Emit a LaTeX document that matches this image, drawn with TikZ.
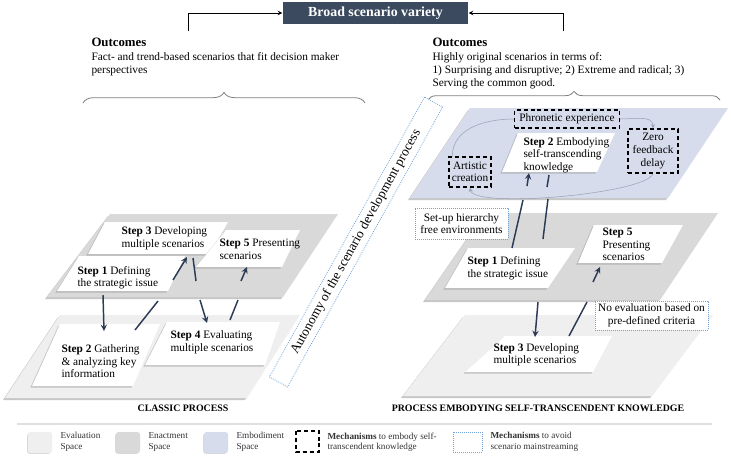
\documentclass[tikz,border=0pt]{standalone}
\usepackage{fontspec}
\setmainfont{Liberation Serif}
\usepackage{tikz}
\usetikzlibrary{shadows,decorations.pathreplacing}
\definecolor{titlebg}{HTML}{3B4A5E}
\definecolor{flowline}{HTML}{2B3A55}
\definecolor{evalfill}{HTML}{EFEFEF}
\definecolor{enactfill}{HTML}{D9D9D9}
\definecolor{embodyfill}{HTML}{D6DCEC}
\definecolor{dotblue}{HTML}{6FA3D8}
\definecolor{bracegray}{HTML}{808080}
\definecolor{loopgray}{HTML}{98A3B8}
\newcommand{\stepfnt}{\fontsize{8.5}{9.4}\selectfont}
\newcommand{\headfnt}{\fontsize{9.6}{11}\selectfont\bfseries}
\newcommand{\outfnt}{\fontsize{8.5}{10.1}\selectfont}
\newcommand{\ttlfnt}{\fontsize{10.4}{12}\selectfont\bfseries}
\newcommand{\procfnt}{\fontsize{7.4}{9}\selectfont\bfseries}
\newcommand{\autofnt}{\fontsize{10}{12}\selectfont}
\newcommand{\legfnt}{\fontsize{6.9}{8.2}\selectfont}

\begin{document}
\begin{tikzpicture}[x=0.75pt, y=-0.75pt, >=stealth, line width=.8pt,
    plane/.style={drop shadow={shadow xshift=-1.5pt, shadow yshift=-1.5pt, opacity=.4, fill=black!55}},
    card/.style={fill=white, drop shadow={shadow xshift=-1.2pt, shadow yshift=-1.2pt, opacity=.45, fill=black!45}},
    steptext/.style={font=\stepfnt, align=left, anchor=north west, inner sep=0pt},
    outhead/.style={font=\headfnt, anchor=north west, inner sep=0pt},
    outtext/.style={font=\outfnt, align=left, anchor=north west, inner sep=0pt},
    mech/.style={draw=black, line width=1.1pt, dash pattern=on 3pt off 2.2pt, fill=embodyfill, font=\stepfnt, align=center, inner sep=1pt},
    nostream/.style={draw=dotblue, line width=.6pt, dash pattern=on .6pt off .9pt, fill=white, font=\stepfnt, align=center},
    flow/.style={draw=flowline, line width=1.1pt},
    loopline/.style={draw=loopgray, line width=.4pt},
    proclabel/.style={font=\procfnt},
    legtext/.style={font=\legfnt, text=black!80, align=left, anchor=north west, inner sep=0pt}]
    \useasboundingbox[fill=white] (0,0) rectangle (731,455);

    % Title.
    \node[fill=titlebg, text=white, font=\ttlfnt, minimum width=138.75pt, minimum height=16.5pt, inner sep=0pt] (title) at (375.5,13) {Broad scenario variety};
    \coordinate (lup) at (188,31);
    \coordinate (rup) at (563,31);
    \draw[->, line width=.6pt] (lup) |- (title.west);
    \draw[->, line width=.6pt] (rup) |- (title.east);

    % Outcomes.
    \node[outhead] (outl) at (91,37.5) {Outcomes};
    \node[outtext] (outltext) at (91,51.5) {Fact- and trend-based scenarios that fit decision maker\\perspectives};
    \node[outhead] (outr) at (432,37.5) {Outcomes};
    \node[outtext] (outrtext) at (432,51.5) {Highly original scenarios in terms of:\\1) Surprising and disruptive; 2) Extreme and radical; 3)\\Serving the common good.};
    \draw[bracegray, line width=.6pt, decorate, decoration={brace, amplitude=8pt}] (83,103) -- (365,103);
    \draw[bracegray, line width=.6pt, decorate, decoration={brace, amplitude=6.5pt}] (428,100) -- (720,100);

    % Classic process.
    \fill[plane, evalfill] (60,315) -- (300,315) -- (247,398) -- (5,398) -- cycle;
    \fill[plane, enactfill] (110,214) -- (338,214) -- (283,297) -- (47,297) -- cycle;
    \fill[card] (105,222) -- (228,222) -- (210,254) -- (88,254) -- cycle;
    \fill[card] (79,256) -- (185,256) -- (168,291) -- (57,291) -- cycle;
    \fill[card] (226,230) -- (300,230) -- (282,267) -- (196,267) -- cycle;
    \fill[card] (60,324) -- (160,324) -- (133,386) -- (32,386) -- cycle;
    \fill[card] (167,322) -- (280,322) -- (265,365) -- (145,365) -- cycle;
    \node[steptext] (cl3) at (121,226.5) {\textbf{Step 3} Developing\\multiple scenarios};
    \node[steptext] (cl1) at (77,265.5) {\textbf{Step 1} Defining\\the strategic issue};
    \node[steptext] (cl5) at (219,238.5) {\textbf{Step 5} Presenting\\scenarios};
    \node[steptext] (cl2) at (61,344.5) {\textbf{Step 2} Gathering\\\& analyzing key\\information};
    \node[steptext] (cl4) at (170,330.5) {\textbf{Step 4} Evaluating\\multiple scenarios};
    \node[proclabel] (classic) at (183,408) {CLASSIC PROCESS};

    \coordinate (l1b) at (103,295);
    \coordinate (l2t) at (104,331);
    \draw[flow, ->] (l1b) -- (l2t);
    \coordinate (l2r) at (135,330);
    \coordinate (l2g) at (158,301);
    \coordinate (l3g) at (173,280);
    \coordinate (l3b) at (187,257);
    \draw[flow] (l2r) -- (l2g);
    \draw[flow, ->] (l3g) -- (l3b);
    \coordinate (l3r) at (193,258);
    \coordinate (l3h) at (196,281);
    \coordinate (l4h) at (200,300);
    \coordinate (l4t) at (207,323);
    \draw[flow] (l3r) -- (l3h);
    \draw[flow, ->] (l4h) -- (l4t);
    \coordinate (l4r) at (230,320);
    \coordinate (l4g) at (238,300);
    \coordinate (l5g) at (241,281);
    \coordinate (l5b) at (247,267);
    \draw[flow] (l4r) -- (l4g);
    \draw[flow, ->] (l5g) -- (l5b);

    % Autonomy.
    \node[nostream, rotate=61, minimum width=240pt, minimum height=15.5pt, font=\autofnt, inner sep=0pt] (autonomy) at (356,242) {Autonomy of the scenario development process};

    % Process embodying self-transcendent knowledge.
    \fill[plane, evalfill] (465,315) -- (713,315) -- (652,396) -- (403,396) -- cycle;
    \fill[plane, enactfill] (485,213) -- (718,213) -- (660,300) -- (425,300) -- cycle;
    \fill[plane, embodyfill] (470,108) -- (728,108) -- (668,198) -- (410,198) -- cycle;

    \node[mech, minimum width=37.5pt, minimum height=33pt] (zero) at (653,151) {Zero\\feedback\\delay};
    \node[mech, minimum width=31.5pt, minimum height=22.5pt] (art) at (470,172) {Artistic\\creation};
    \node[mech, minimum width=78.75pt, minimum height=13.5pt] (phron) at (567,119) {Phronetic experience};
    \draw[loopline] ([xshift=3pt]art.north west) to[out=90, in=180] (phron.west);
    \draw[loopline, ->] (phron.east) to[out=0, in=90] (zero.north);
    \draw[loopline, ->] (zero.south) to[out=-110, in=-80, looseness=.3] (art.south);

    \fill[card] (518,133) -- (615,133) -- (597,172) -- (502,172) -- cycle;
    \fill[card] (468,248) -- (575,248) -- (548,288) -- (445,288) -- cycle;
    \fill[card] (594,225) -- (683,225) -- (662,263) -- (578,263) -- cycle;
    \fill[card] (505,336) -- (612,336) -- (593,372) -- (465,372) -- cycle;
    \node[steptext] (cr2) at (523,137) {\textbf{Step 2} Embodying\\self-transcending\\knowledge};
    \node[steptext] (cr1) at (467,256) {\textbf{Step 1} Defining\\the strategic issue};
    \node[steptext] (cr5) at (602,227.5) {\textbf{Step 5}\\Presenting\\scenarios};
    \node[steptext] (cr3) at (493,343) {\textbf{Step 3} Developing\\multiple scenarios};
    \node[proclabel] (embodying) at (538,408) {PROCESS EMBODYING SELF-TRANSCENDENT KNOWLEDGE};

    \node[nostream, minimum width=69.75pt, minimum height=23.25pt, inner sep=1pt] (setup) at (461.5,223.5) {Set-up hierarchy\\free environments};
    \node[nostream, minimum width=84.75pt, minimum height=21.75pt, inner sep=1pt] (noeval) at (651.5,315.5) {No evaluation based on\\pre-defined criteria};

    \coordinate (r1t) at (512,248);
    \coordinate (r1g) at (523,200);
    \coordinate (r2g) at (527,186);
    \coordinate (r2b) at (529,173);
    \draw[flow] (r1t) -- (r1g);
    \draw[flow, ->] (r2g) -- (r2b);
    \coordinate (r2a) at (549,175);
    \coordinate (r2h) at (547,187);
    \coordinate (r1h) at (548,199);
    \coordinate (r1k) at (543,239);
    \coordinate (r3h) at (538,302);
    \coordinate (r3t) at (535,337);
    \draw[flow] (r2a) -- (r2h);
    \draw[flow] (r1h) -- (r1k);
    \draw[flow, ->] (r3h) -- (r3t);
    \coordinate (r3r) at (569,336);
    \coordinate (r3g) at (587,302);
    \coordinate (r5g) at (593,282);
    \coordinate (r5b) at (600,267);
    \draw[flow] (r3r) -- (r3g);
    \draw[flow, ->] (r5g) -- (r5b);

    % Legend.
    \draw[black!12, line width=1pt] (17,424) -- (712,424);
    \foreach \x/\c/\t in {28/evalfill/Evaluation, 116/enactfill/Enactment, 204/embodyfill/Embodiment}
    {
        \fill[\c, rounded corners=2pt, drop shadow={shadow xshift=-.6pt, shadow yshift=-.6pt, opacity=.3}] (\x,432) rectangle ++(24,21);
        \node[legtext] (leg\t) at (\x+32,432) {\t\\Space};
    }
    \draw[black, line width=1.1pt, dash pattern=on 3pt off 2.2pt] (296,431) rectangle (319,452);
    \node[legtext] (legmech) at (327,432) {\textbf{Mechanisms} to embody self-\\transcendent knowledge};
    \draw[draw=dotblue, line width=.6pt, dash pattern=on .6pt off .9pt] (453,432) rectangle (482,452);
    \node[legtext] (legavoid) at (490,432) {\textbf{Mechanisms} to avoid\\scenario mainstreaming};
\end{tikzpicture}
\end{document}
